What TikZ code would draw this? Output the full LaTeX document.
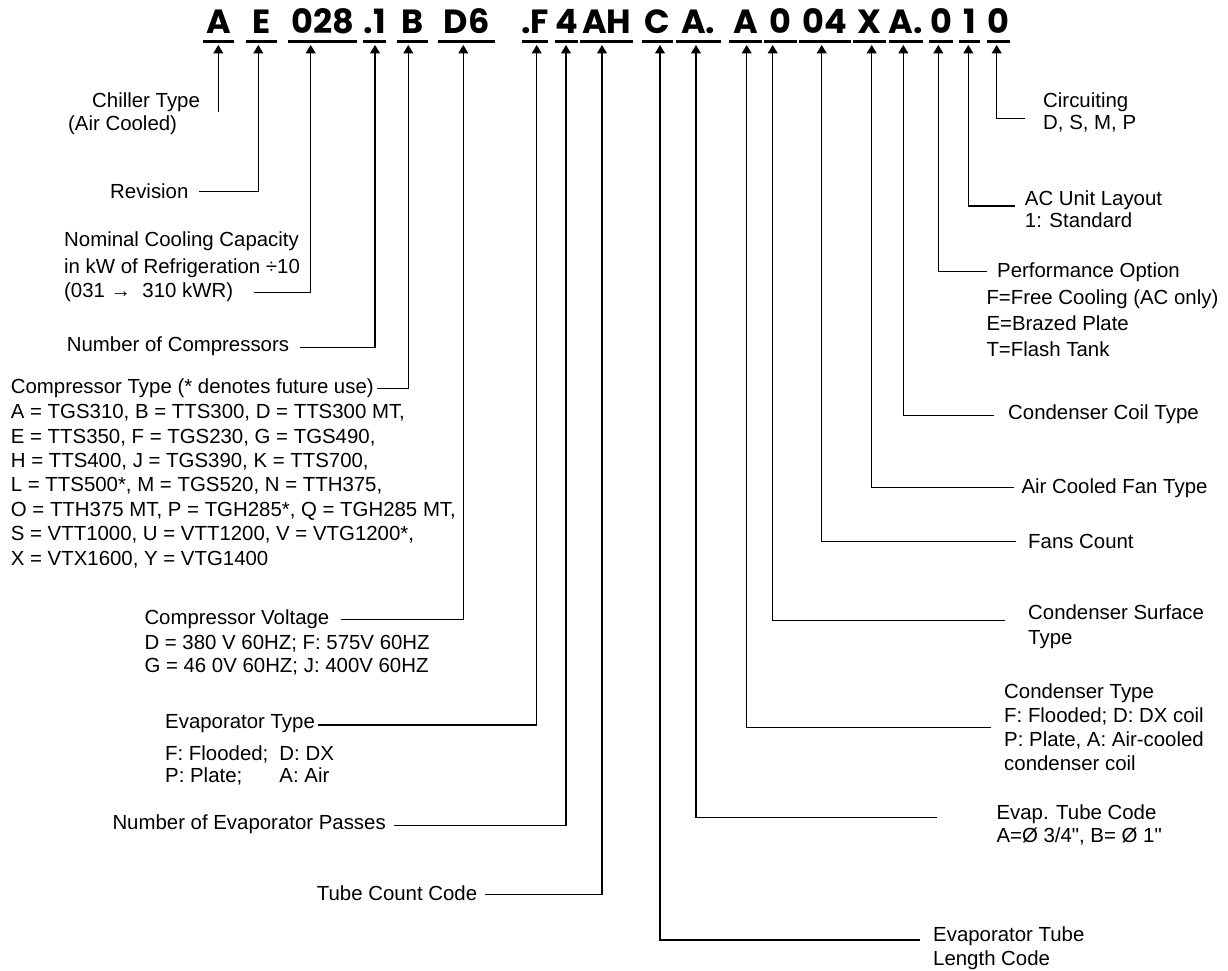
\documentclass[tikz,border=0pt]{standalone}
\usepackage{fontspec}
\setmainfont{Liberation Sans}
\newfontfamily\codefont{Poppins}
\newcommand\sq{\XeTeXglyph\XeTeXcharglyph"22\relax}
\usetikzlibrary{arrows.meta, positioning, calc}

\begin{document}
\begin{tikzpicture}[
    x=1pt, y=-1pt,
    lbl/.style={anchor=west, inner sep=0pt, align=left, font=\fontsize{20.4}{24.4}\selectfont},
    code/.style={anchor=base, inner sep=0pt, font=\codefont\bfseries\fontsize{33.5}{36}\selectfont},
    uline/.style={line width=2.7pt},
    conn/.style={line width=1.2pt, -{Triangle[length=8.5pt,width=10pt]}}
]
    \useasboundingbox (0,0) rectangle (1228,971);

    % model code, underlines and arrow tips
    \foreach \txt/\xa/\xb/\xp [count=\i] in {A/202.7/234.3/218.3, E/246/277.3/258.3,
        028/288.3/356.7/310.7, .1/363.3/386/375, B/396.7/427.7/408.3, D6/438.3/495/463.3,
        .F/521.7/548.3/536.7, 4/555/578.3/566, AH/580/633.3/602, C/642.3/672.7/660,
        A./676/720.7/696, A/729.3/761.7/746.7, 0/764/796.7/772.7, 04/799.3/850.7/821.7,
        X/853.3/886/871.7, A./889.3/922.7/903.3, 0/929.3/952.7/938.3, 1/959.3/980/968.3,
        0/986.7/1010/996.7} {
        \node[code] (c\i) at ({(\xa+\xb)/2},33.3) {\txt};
        \draw[uline] (\xa,41.3) -- (\xb,41.3);
        \coordinate (t\i) at (\xp,45);
    }

    % left hand labels
    \node[lbl] (chl1) at (92,102.5) {Chiller Type};
    \node[lbl] (chl2) at (68,125) {(Air Cooled)};
    \node[lbl] (rev) at (110,191.5) {Revision};
    \node[lbl, font=\fontsize{20.4}{26.6}\selectfont] (nom) at (64,255) {Nominal Cooling Capacity\\in kW of Refrigeration ÷10};
    \node[lbl] (nomb) at (64,292) {(031 →~~310 kWR)};
    \node[lbl] (ncomp) at (66.7,346.5) {Number of Compressors};
    \node[lbl] (ctyp) at (10.7,388.3) {Compressor Type (* denotes future use)};
    \node[lbl] (clist) at (10.7,486) {A = TGS310, B = TTS300, D = TTS300 MT,\\E = TTS350, F = TGS230, G = TGS490,\\H = TTS400, J = TGS390, K = TTS700,\\L = TTS500*, M = TGS520, N = TTH375,\\O = TTH375 MT, P = TGH285*, Q = TGH285 MT,\\S = VTT1000, U = VTT1200, V = VTG1200*,\\X = VTX1600, Y = VTG1400};
    \node[lbl] (cvolt) at (144.3,618.8) {Compressor Voltage};
    \node[lbl, font=\fontsize{20.4}{23.4}\selectfont] (cvlist) at (144.3,655) {D = 380 V 60HZ; F: 575V 60HZ\\G = 46 0V 60HZ; J: 400V 60HZ};
    \node[lbl] (evt) at (165,724) {Evaporator Type};
    \node[lbl, font=\fontsize{20.4}{22}\selectfont] (evlist) at (165,765) {\makebox[114.3pt][l]{F: Flooded;}D: DX\\\makebox[114.3pt][l]{P: Plate;}A: Air};
    \node[lbl] (npass) at (112.3,824) {Number of Evaporator Passes};
    \node[lbl] (tcc) at (316.7,893) {Tube Count Code};

    % right hand labels
    \node[lbl, font=\fontsize{20.4}{21.6}\selectfont] (circ) at (1043,112.5) {Circuiting\\D, S, M, P};
    \node[lbl, font=\fontsize{20.4}{21.7}\selectfont] (acu) at (1024.7,209) {AC Unit Layout\\1: Standard};
    \node[lbl] (perf) at (997,272) {Performance Option};
    \node[lbl, font=\fontsize{20.4}{26}\selectfont] (perflist) at (986.3,323.3) {F=Free Cooling (AC only)\\E=Brazed Plate\\T=Flash Tank};
    \node[lbl] (cct) at (1008,414.5) {Condenser Coil Type};
    \node[lbl] (acft) at (1021.3,488) {Air Cooled Fan Type};
    \node[lbl] (fans) at (1028,541.7) {Fans Count};
    \node[lbl, font=\fontsize{20.4}{25}\selectfont] (cst) at (1028,626.5) {Condenser Surface\\Type};
    \node[lbl, font=\fontsize{20.4}{23.7}\selectfont] (cndt) at (1004,727.2) {Condenser Type\\F: Flooded; D: DX coil\\P: Plate, A: Air-cooled\\condenser coil};
    \node[lbl, font=\fontsize{20.4}{22.7}\selectfont] (etc) at (996.3,824.7) {Evap. Tube Code\\A=Ø 3/4\sq, B= Ø 1\sq};
    \node[lbl, font=\fontsize{20.4}{23.3}\selectfont] (etl) at (933,948.3) {Evaporator Tube\\Length Code};

    % connectors
    \draw[conn] (chl1.south -| t1) -- (t1);
    \draw[conn] ([shift={(10.7,0)}]rev.east) -| (t2);
    \draw[conn] ([shift={(20.7,0.7)}]nomb.east) -| (t3);
    \draw[conn] ([shift={(11,0.8)}]ncomp.east) -| (t4);
    \draw[conn] ([shift={(3.3,0)}]ctyp.east) -| (t5);
    \draw[conn] ([shift={(11.3,0.5)}]cvolt.east) -| (t6);
    \draw[conn] ([shift={(3.3,1)}]evt.east) -| (t7);
    \draw[conn] ([shift={(8,1.7)}]npass.east) -| (t8);
    \draw[conn] ([shift={(8,1.3)}]tcc.east) -| (t9);
    \draw[conn] ([shift={(-13,-8.3)}]etl.west) -| (t10);
    \draw[conn] ([shift={(-59,-7.4)}]etc.west) -| (t11);
    \draw[conn] ([shift={(-12.7,0)}]cndt.west) -| (t12);
    \draw[conn] ([shift={(-23.3,-6.2)}]cst.west) -| (t13);
    \draw[conn] ([shift={(-11.7,0)}]fans.west) -| (t14);
    \draw[conn] ([shift={(-7.3,-0.3)}]acft.west) -| (t15);
    \draw[conn] ([shift={(-14,1.2)}]cct.west) -| (t16);
    \draw[conn] ([shift={(-9.7,-0.3)}]perf.west) -| (t17);
    \draw[conn] ([shift={(-10,-3)}]acu.west) -| (t18);
    \draw[conn] ([shift={(-17.7,5.8)}]circ.west) -| (t19);
\end{tikzpicture}
\end{document}
